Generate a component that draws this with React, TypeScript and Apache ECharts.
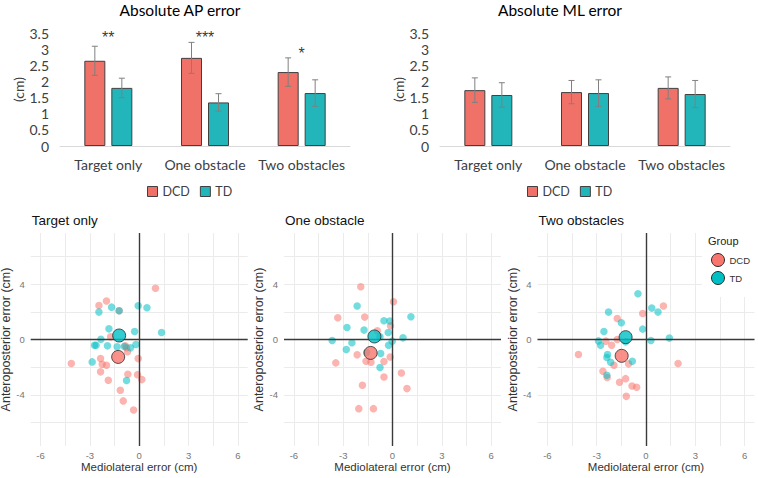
import React, { useEffect, useRef } from 'react';
import * as echarts from 'echarts';

// ---------- Bar chart data ----------
const barCategories = ['Target only', 'One obstacle', 'Two obstacles'];
const groupNames = ['DCD', 'TD'];
const apDCD = [2.64, 2.73, 2.29];
const apDCDErr = [0.45, 0.48, 0.44];
const apTD = [1.8, 1.35, 1.64];
const apTDErr = [0.3, 0.27, 0.41];
const mlDCD = [1.73, 1.67, 1.8];
const mlDCDErr = [0.38, 0.36, 0.34];
const mlTD = [1.58, 1.64, 1.61];
const mlTDErr = [0.38, 0.41, 0.42];
const apStars = ['**', '***', '*'];
const apStarLevel = [3.35, 3.35, 2.85];
const barTitles = ['Absolute AP error', 'Absolute ML error'];

// ---------- Scatter data (mediolateral, anteroposterior) ----------
const panelTitles = ['Target only', 'One obstacle', 'Two obstacles'];
const targetDCD = [
  [0.99, 3.7], [-1.99, 2.78], [-2.45, 2.46], [-1.22, 2.08], [-1.74, 0.19], [-0.85, -0.45],
  [-0.77, -0.6], [-0.71, -0.89], [-4.13, -1.74], [-2.35, -1.38], [-2.25, -1.79], [-1.99, -1.86],
  [-2.35, -2.34], [-1.88, -2.95], [-0.06, -1.38], [-0.69, -2.51], [-0.1, -2.54], [0.16, -2.9],
  [-1.15, -3.67], [-0.97, -4.44], [-0.34, -5.1],
];
const targetTD = [
  [-1.68, 2.34], [-2.45, 1.98], [-1.22, 2.08], [-0.06, 2.44], [0.47, 2.29], [-1.84, 0.77],
  [-0.28, 0.58], [1.36, 0.51], [-2.33, 0.02], [-2.72, -0.41], [-2.62, -0.41], [-1.93, -0.46],
  [-1.34, -0.53], [-0.53, -0.6], [-0.2, -0.36], [-0.9, -0.5], [-2.86, -1.62], [-0.77, -2.97],
];
const oneDCD = [
  [-1.93, 3.82], [0.06, 2.73], [-3.33, 1.57], [-1.69, 1.62], [-0.12, 0.99], [-0.92, 0.63],
  [-3.45, -1.69], [-2.15, -1.11], [-1.61, -1.57], [-1.31, -1.64], [-0.52, -1.59], [-0.14, -1.26],
  [-0.52, -2.71], [0.54, -2.42], [0.88, -3.55], [-1.83, -3.31], [-2.05, -5.0], [-1.16, -5.0],
];
const oneTD = [
  [-2.15, 2.42], [1.12, 1.64], [-0.52, 1.35], [-0.16, 1.33], [-2.77, 0.87], [-1.73, 0.68],
  [-0.26, 0.51], [-3.67, -0.07], [-2.47, -0.24], [-0.02, -0.12], [0.64, 0.12], [-2.81, -0.72],
  [-0.24, -0.41], [-0.72, -1.01], [-0.76, -2.03], [-1.57, -0.94], [-0.76, 0.19],
];
const twoDCD = [
  [1.06, 2.42], [-0.2, 1.88], [-1.75, 1.52], [-1.75, 0.0], [-2.44, -0.12], [-2.09, -0.41],
  [-4.11, -1.09], [-1.95, -1.86], [-1.06, -1.76], [1.95, -1.74], [-2.62, -2.29], [-2.36, -2.75],
  [-1.24, -2.83], [-1.61, -3.09], [-0.85, -3.36], [-0.57, -3.45], [-1.2, -4.11],
];
const twoTD = [
  [-0.49, 3.31], [-2.28, 1.98], [0.35, 2.27], [0.73, 1.98], [-1.5, 1.21], [-0.2, 0.75],
  [-2.56, 0.58], [-2.89, -0.1], [-2.76, -0.41], [0.3, -0.07], [1.42, 0.1], [-2.34, -1.09],
  [-2.38, -1.3], [-2.15, -1.64], [-0.83, -1.57], [-2.38, -2.58], [-1.24, -0.17],
];
const meansDCD = [[-1.28, -1.26], [-1.33, -0.97], [-1.48, -1.18]];
const meansTD = [[-1.22, 0.29], [-1.1, 0.22], [-1.24, 0.17]];

const BAR_FONT = 'Lato';
const GG_FONT = 'Liberation Sans';
const BAR_COLORS = ['#EF7167', '#22B5BA'];
const PT_COLORS = ['#F8766D', '#00BFC4'];
const BAR_W = 21;
const BAR_GAP = 6;

export default function App() {
  const ref = useRef<HTMLDivElement>(null);
  useEffect(() => {
    document.body.style.margin = '0';
    if (!ref.current) return;
    const chart = echarts.init(ref.current, undefined, { renderer: 'svg' });

    const barGrids = [
      { left: 60, top: 33, width: 290, height: 113 },
      { left: 440, top: 33, width: 290, height: 113 },
    ];
    const scLefts = [30.7, 284, 537.5];
    const scGrid = { top: 233, width: 217, height: 213 };

    const grid: any[] = [
      ...barGrids.map((g) => ({ ...g, outerBoundsMode: 'none' })),
      ...scLefts.map((l) => ({ left: l, ...scGrid, outerBoundsMode: 'none' })),
    ];

    const xAxis: any[] = [];
    const yAxis: any[] = [];
    for (let b = 0; b < 2; b++) {
      xAxis.push({
        type: 'category', gridIndex: b, data: barCategories,
        axisTick: { show: false },
        axisLine: { lineStyle: { color: '#D9D9D9', width: 1 } },
        axisLabel: { interval: 0, hideOverlap: false, fontSize: 14, color: '#404040', fontFamily: BAR_FONT, fontWeight: 'normal', margin: 11 },
      });
      yAxis.push({
        type: 'value', gridIndex: b, min: 0, max: 3.5, interval: 0.5,
        name: '(cm)', nameLocation: 'middle', nameGap: 31, nameRotate: 90,
        nameTextStyle: { fontSize: 14, color: '#404040', fontFamily: BAR_FONT, fontWeight: 'normal' },
        axisLine: { show: false }, axisTick: { show: false }, splitLine: { show: false },
        axisLabel: { fontSize: 14, color: '#404040', fontFamily: BAR_FONT, fontWeight: 'normal', margin: 11 },
      });
    }
    for (let p = 0; p < 3; p++) {
      xAxis.push({
        type: 'value', gridIndex: 2 + p, min: -6.6, max: 6.6, minInterval: 1.5, maxInterval: 1.5,
        name: 'Mediolateral error (cm)', nameLocation: 'middle', nameGap: 14,
        nameTextStyle: { fontSize: 11.5, color: '#333', fontFamily: GG_FONT, fontWeight: 'normal' },
        axisLine: { show: false }, axisTick: { show: false },
        axisLabel: {
          fontSize: 9.5, color: '#777', fontFamily: GG_FONT, margin: 4,
          formatter: (v: number) => (Math.abs(v % 3) < 1e-9 ? String(v) : ''),
        },
        splitLine: { show: true, showMinLine: false, showMaxLine: false, lineStyle: { color: '#EBEBEB', width: 1 } },
      });
      yAxis.push({
        type: 'value', gridIndex: 2 + p, min: -7.7, max: 7.7, minInterval: 2, maxInterval: 2,
        name: 'Anteroposterior error (cm)', nameLocation: 'middle', nameGap: 14, nameRotate: 90,
        nameTextStyle: { fontSize: 12.5, color: '#333', fontFamily: GG_FONT, fontWeight: 'normal' },
        axisLine: { show: false }, axisTick: { show: false },
        axisLabel: {
          fontSize: 9.5, color: '#777', fontFamily: GG_FONT, margin: 6,
          formatter: (v: number) => (Math.abs(v % 4) < 1e-9 ? String(v) : ''),
        },
        splitLine: { show: true, showMinLine: false, showMaxLine: false, lineStyle: { color: '#EBEBEB', width: 1 } },
      });
    }

    const errRender = (offset: number) => (params: any, api: any) => {
      const c = api.value(0);
      const lo = api.coord([c, api.value(1)]);
      const hi = api.coord([c, api.value(2)]);
      const cx = lo[0] + offset;
      const style = { stroke: '#808080', lineWidth: 1 };
      return {
        type: 'group',
        children: [
          { type: 'line', shape: { x1: cx, y1: hi[1], x2: cx, y2: lo[1] }, style },
          { type: 'line', shape: { x1: cx - 3, y1: hi[1], x2: cx + 3, y2: hi[1] }, style },
          { type: 'line', shape: { x1: cx - 3, y1: lo[1], x2: cx + 3, y2: lo[1] }, style },
        ],
      };
    };

    const series: any[] = [];
    const barSets = [
      [[apDCD, apDCDErr], [apTD, apTDErr]],
      [[mlDCD, mlDCDErr], [mlTD, mlTDErr]],
    ];
    const half = (BAR_W + BAR_GAP) / 2;
    barSets.forEach((set, b) => {
      set.forEach(([vals], g) => {
        series.push({
          type: 'bar', name: groupNames[g], xAxisIndex: b, yAxisIndex: b, data: vals,
          barWidth: BAR_W, barGap: `${(BAR_GAP / BAR_W) * 100}%`,
          itemStyle: { color: BAR_COLORS[g], borderColor: '#404040', borderWidth: 1 },
        });
      });
      set.forEach(([vals, errs], g) => {
        series.push({
          type: 'custom', name: 'err' + b + g, xAxisIndex: b, yAxisIndex: b, z: 3,
          data: vals.map((v: number, i: number) => [i, v - errs[i], v + errs[i]]),
          encode: { x: 0, y: [1, 2] },
          renderItem: errRender(g === 0 ? -half : half),
        });
      });
    });
    series.push({
      type: 'scatter', name: 'stars', xAxisIndex: 0, yAxisIndex: 0, symbolSize: 1,
      itemStyle: { color: 'transparent' },
      data: apStarLevel.map((v, i) => [i, v]),
      label: {
        show: true, position: 'inside', fontSize: 16, color: '#000', fontFamily: GG_FONT,
        formatter: (p: any) => apStars[p.dataIndex],
      },
    });

    const panels = [[targetDCD, targetTD], [oneDCD, oneTD], [twoDCD, twoTD]];
    panels.forEach(([dcd, td], p) => {
      const ax = 2 + p;
      series.push({
        type: 'scatter', name: 'DCD', xAxisIndex: ax, yAxisIndex: ax, data: dcd, symbolSize: 7.5,
        itemStyle: { color: PT_COLORS[0], opacity: 0.55 },
        markLine: {
          silent: true, symbol: 'none', label: { show: false },
          lineStyle: { color: '#3A3A3A', width: 1.4, type: 'solid' },
          data: [{ xAxis: 0 }, { yAxis: 0 }],
        },
      });
      series.push({
        type: 'scatter', name: 'TD', xAxisIndex: ax, yAxisIndex: ax, data: td, symbolSize: 7.5,
        itemStyle: { color: PT_COLORS[1], opacity: 0.55 },
      });
      series.push({
        type: 'scatter', name: 'DCD', xAxisIndex: ax, yAxisIndex: ax, data: [meansDCD[p]], symbolSize: 13, z: 5,
        itemStyle: { color: PT_COLORS[0], borderColor: '#2A2A2A', borderWidth: 1 },
      });
      series.push({
        type: 'scatter', name: 'TD', xAxisIndex: ax, yAxisIndex: ax, data: [meansTD[p]], symbolSize: 13, z: 5,
        itemStyle: { color: PT_COLORS[1], borderColor: '#2A2A2A', borderWidth: 1 },
      });
    });

    const barLegend = (left: number) => ({
      left, top: 185, padding: 0, itemWidth: 10, itemHeight: 10, itemGap: 10, selectedMode: false,
      icon: 'rect',
      textStyle: { fontSize: 12.5, color: '#404040', fontFamily: BAR_FONT, fontWeight: 'normal' },
      data: groupNames.map((n, g) => ({
        name: n, icon: 'rect',
        itemStyle: { color: BAR_COLORS[g], borderColor: '#404040', borderWidth: 1 },
      })),
    });

    const graphicTexts: any[] = [
      ...barTitles.map((t, b) => ({
        type: 'text', x: barGrids[b].left + 120, y: 10, z: 100,
        style: { text: t, fontSize: 15.5, fontFamily: BAR_FONT, fontWeight: 'normal', fill: '#000', align: 'center', verticalAlign: 'middle' },
      })),
      ...panelTitles.map((t, p) => ({
        type: 'text', x: scLefts[p] + 1, y: 220, z: 100,
        style: { text: t, fontSize: 13.5, fontFamily: GG_FONT, fontWeight: 'normal', fill: '#111', align: 'left', verticalAlign: 'middle' },
      })),
      {
        type: 'text', x: 708, y: 241, z: 100,
        style: { text: 'Group', fontSize: 11, fontFamily: GG_FONT, fontWeight: 'normal', fill: '#222', align: 'left', verticalAlign: 'middle' },
      },
    ];

    chart.setOption({
      animation: false,
      backgroundColor: '#fff',
      grid, xAxis, yAxis, series,
      legend: [
        barLegend(147),
        barLegend(527),
        {
          orient: 'vertical', left: 702, top: 228, padding: [25, 20, 12, 9],
          backgroundColor: '#fff', itemWidth: 13, itemHeight: 13, itemGap: 4, selectedMode: false,
          textStyle: { fontSize: 9.5, color: '#333', fontFamily: GG_FONT, fontWeight: 'normal' },
          data: groupNames.map((n, g) => ({
            name: n, icon: 'circle',
            itemStyle: { color: PT_COLORS[g], borderColor: '#2A2A2A', borderWidth: 1, opacity: 1 },
          })),
        },
      ],
      graphic: graphicTexts,
    });
    return () => chart.dispose();
  }, []);
  return <div ref={ref} style={{ width: 758, height: 478 }} />;
}
